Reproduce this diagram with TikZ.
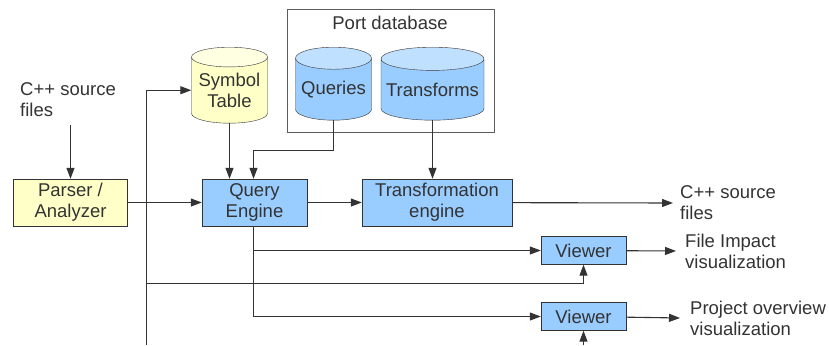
\documentclass[tikz,border=0pt]{standalone}
\usepackage{fontspec}
\setmainfont{Liberation Sans}
\usetikzlibrary{shapes.geometric,arrows.meta}

\definecolor{boxyellow}{HTML}{FFFFC8}
\definecolor{topyellow}{HTML}{FFFFE2}
\definecolor{boxblue}{HTML}{99CCFF}
\definecolor{topblue}{HTML}{C0E0FF}
\definecolor{inkgray}{HTML}{333333}

\begin{document}
\begin{tikzpicture}[
  x=1pt, y=-1pt,
  every node/.style={
    font=\fontsize{18.5}{21}\selectfont, text=inkgray,
  },
  box/.style={
    draw=inkgray, align=center, inner sep=0pt,
    minimum height=47pt
  },
  yellowbox/.style={box, fill=boxyellow},
  bluebox/.style={box, fill=boxblue},
  viewer/.style={box, fill=boxblue, minimum width=85pt, minimum height=28pt},
  drum/.style={
    cylinder, shape border rotate=90, draw=inkgray, align=center,
    inner sep=0pt, cylinder uses custom fill, anchor=north
  },
  note/.style={align=left, anchor=west, inner sep=0pt},
  arr/.style={draw=inkgray, line width=1.1pt, -{Triangle[length=11pt,width=8pt]}}
  ]
  \useasboundingbox (0,0) rectangle (829,345);

  \node[draw=inkgray!80, fill=white, minimum width=207pt, minimum height=123pt]
    (portdb) at (390.5,70.5) {};
  \node (dbtitle) at (390,23) {Port database};

  \node[drum, cylinder end fill=topyellow, cylinder body fill=boxyellow,
    minimum width=76pt, minimum height=76pt, aspect=0.32]
    (sym) at (229.5,47) {Symbol\\Table};
  \node[drum, cylinder end fill=topblue, cylinder body fill=boxblue,
    minimum width=76pt, minimum height=73pt, aspect=0.34]
    (queries) at (333.5,47) {Queries};
  \node[drum, cylinder end fill=topblue, cylinder body fill=boxblue,
    minimum width=103pt, minimum height=73pt, aspect=0.25]
    (trans) at (432.5,47) {Transforms};

  \node[note] (srcin) at (20,100) {C++ source\\files};
  \node[yellowbox, minimum width=114pt] (parser) at (70.5,202.5) {Parser /\\Analyzer};
  \node[bluebox, minimum width=105pt] (query) at (254.5,202.5) {Query\\Engine};
  \node[bluebox, minimum width=150pt] (teng) at (437,202.5) {Transformation\\engine};
  \node[viewer] (view1) at (583.5,250.5) {Viewer};
  \node[viewer] (view2) at (583.5,316.5) {Viewer};

  \node[note] (srcout) at (680,203) {C++ source\\files};
  \node[note] (impact) at (685,251) {File Impact\\visualization};
  \node[note] (overview) at (690,318) {Project overview\\visualization};

  \coordinate (feed) at (146.5,345);
  \coordinate (tap) at (146.5,283.5);
  \coordinate (feed2) at (583.5,345);

  \draw[arr] (parser |- 0,125) -- (parser.north);
  \draw[arr] (parser) -- (query);
  \draw[arr] (sym.south) -- (sym.south |- query.north);
  \draw[arr] (queries.south) -- ++(0,30) -| ([xshift=-1pt]query.north);
  \draw[arr] (trans.south) -- (trans.south |- teng.north);
  \draw[arr] (query) -- (teng);
  \draw[arr] (teng) -- ([xshift=-7pt]srcout.west);
  \draw[arr] (feed) |- (sym.west);
  \draw[arr] ([xshift=-1pt]query.south) |- (view1);
  \draw[arr] ([xshift=-1pt]query.south) |- (view2);
  \draw[arr] (tap) -| (view1.south);
  \draw[arr] (feed2) -- (view2.south);
  \draw[arr] (view1) -- ([xshift=-9pt]impact.west);
  \draw[arr] (view2) -- ([xshift=-10pt]overview.west);
\end{tikzpicture}
\end{document}
